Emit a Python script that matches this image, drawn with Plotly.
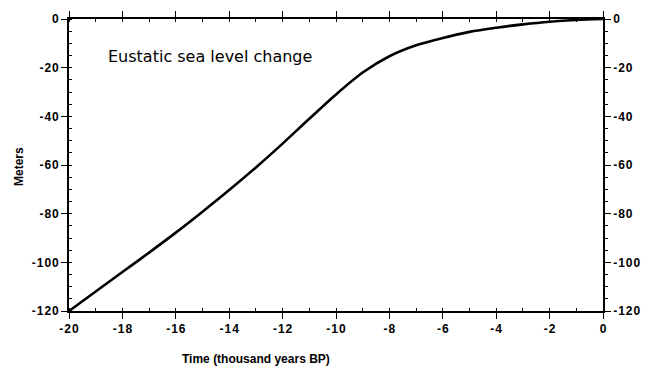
import plotly.graph_objects as go

# Data
time_kyr = [-20, -19, -18, -17, -16, -15, -14, -13, -12, -11, -10, -9, -8, -7, -6, -5, -4, -3, -2, -1, 0]
sea_level_m = [-120, -112, -104, -96, -87.8, -79.2, -70.3, -61, -51.2, -41, -31, -22, -15.3, -10.8, -7.8, -5.3, -3.6, -2.2, -1.1, -0.4, 0]

x_tick_vals = [-20, -18, -16, -14, -12, -10, -8, -6, -4, -2, 0]
x_tick_text = ["-\u200a2\u200a0", "-\u200a1\u200a8", "-\u200a1\u200a6", "-\u200a1\u200a4", "-\u200a1\u200a2",
               "-\u200a1\u200a0", "-\u200a8", "-\u200a6", "-\u200a4", "-\u200a2", "0"]
y_tick_vals = [0, -20, -40, -60, -80, -100, -120]
y_tick_text = ["0", "-\u200a2\u200a0", "-\u200a4\u200a0", "-\u200a6\u200a0", "-\u200a8\u200a0",
               "-\u200a1\u200a0\u200a0", "-\u200a1\u200a2\u200a0"]

title_text = "Eustatic sea level change"
x_title = "Time (thousand years BP)"
y_title = "Meters"

FONT = "Liberation Sans, Arial, Helvetica, sans-serif"
TITLE_FONT = "DejaVu Sans, Liberation Sans, Arial, sans-serif"

L, R, T, B = 69, 43, 19, 58
W, H = 646, 369
pw = W - L - R
ph = H - T - B

fig = go.Figure()
fig.add_trace(go.Scatter(x=time_kyr, y=sea_level_m, mode="lines",
                         line=dict(color="black", width=2.6, shape="spline", smoothing=0.8),
                         showlegend=False, hoverinfo="skip"))
# invisible trace to activate right axis
fig.add_trace(go.Scatter(x=time_kyr, y=sea_level_m, yaxis="y2", mode="lines",
                         line=dict(width=0), opacity=0, showlegend=False, hoverinfo="skip"))

tickfont = dict(family=FONT, size=12, color="black", weight="bold")

fig.update_layout(
    width=W, height=H,
    margin=dict(l=L, r=R, t=T, b=B, autoexpand=False),
    paper_bgcolor="white", plot_bgcolor="white",
    xaxis=dict(range=[-20, 0], tickvals=x_tick_vals, ticktext=x_tick_text, automargin=False,
               ticks="outside", ticklen=6, tickwidth=1.2, tickcolor="black",
               minor=dict(ticks="inside", ticklen=3, tickwidth=1, tickcolor="black", dtick=1, tick0=0, showgrid=False),
               showline=True, linecolor="black", linewidth=1.6, mirror="ticks",
               showgrid=False, zeroline=False, tickfont=tickfont),
    yaxis=dict(range=[-120, 0], tickvals=y_tick_vals, ticktext=y_tick_text, automargin=False,
               ticks="outside", ticklen=6, tickwidth=1.2, tickcolor="black",
               minor=dict(ticks="inside", ticklen=3, tickwidth=1, tickcolor="black", dtick=5, tick0=0, showgrid=False),
               showline=True, linecolor="black", linewidth=1.6, mirror=True,
               showgrid=False, zeroline=False, tickfont=tickfont),
    yaxis2=dict(range=[-120, 0], tickvals=y_tick_vals, ticktext=y_tick_text, automargin=False,
                overlaying="y", side="right",
                ticks="outside", ticklen=6, tickwidth=1.2, tickcolor="black",
                minor=dict(ticks="outside", ticklen=3, tickwidth=1, tickcolor="black", dtick=5, tick0=0, showgrid=False),
                showline=True, linecolor="black", linewidth=1.6,
                showgrid=False, zeroline=False, tickfont=tickfont),
    annotations=[
        dict(text=title_text, x=-18.6, y=-15.6, xref="x", yref="y", xanchor="left", yanchor="middle",
             showarrow=False, font=dict(family=TITLE_FONT, size=16, color="black")),
        dict(text="<b>" + x_title + "</b>", x=(256 - L) / pw, y=-(359 - (H - B)) / ph,
             xref="paper", yref="paper", xanchor="center", yanchor="middle",
             showarrow=False, font=dict(family=FONT, size=12, color="black")),
        dict(text="<b>" + y_title + "</b>", x=(19 - L) / pw, y=(H - B - 167) / ph,
             xref="paper", yref="paper", textangle=-90, xanchor="center", yanchor="middle",
             showarrow=False, font=dict(family=FONT, size=12, color="black")),
    ],
)

fig.write_html("out.html")
